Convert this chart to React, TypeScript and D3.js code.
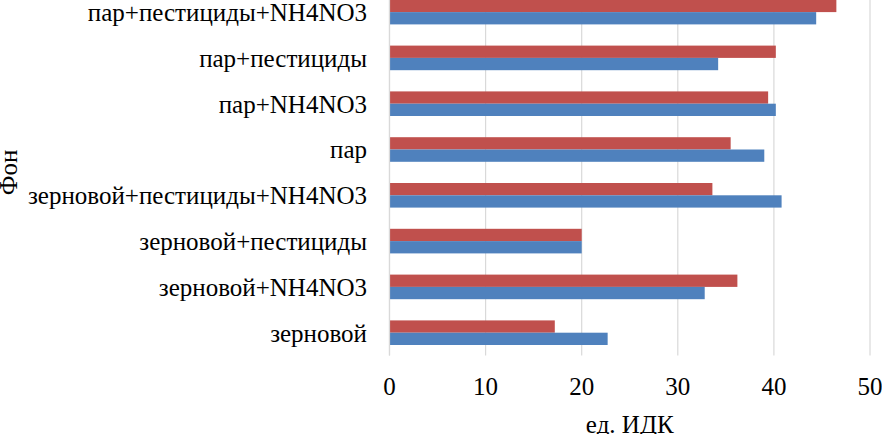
import React from "react";
import * as d3 from "d3";

const categories = [
  "зерновой",
  "зерновой+NH4NO3",
  "зерновой+пестициды",
  "зерновой+пестициды+NH4NO3",
  "пар",
  "пар+NH4NO3",
  "пар+пестициды",
  "пар+пестициды+NH4NO3",
];
// blue series (lower bar of each pair)
const series1 = [22.7, 32.8, 20.0, 40.8, 39.0, 40.2, 34.2, 44.4];
// red series (upper bar of each pair)
const series2 = [17.2, 36.2, 20.0, 33.6, 35.5, 39.4, 40.2, 46.5];
const xTicks = [0, 10, 20, 30, 40, 50];
const xTitle = "ед. ИДК";
const yTitle = "Фон";

const W = 882;
const H = 434;
const FONT = "Times New Roman";
const FS = 25;

export default function App() {
  const left = 389.5;
  const right = 870;
  const top = -10.8;
  const bottom = 355.6;

  const x = d3.scaleLinear().domain([0, 50]).range([left, right]);
  const y = d3
    .scaleBand<string>()
    .domain([...categories].reverse())
    .range([top, bottom])
    .paddingInner(0.463)
    .paddingOuter(0.2315);
  const sub = d3
    .scaleBand<string>()
    .domain(["s2", "s1"])
    .range([0, y.bandwidth()]);

  return (
    <svg
      width={W}
      height={H}
      style={{ position: "absolute", left: 0, top: 0, background: "#fff" }}
    >
      <rect x={0} y={0} width={W} height={H} fill="#fff" />
      {xTicks.map((t) => (
        <line
          key={"g" + t}
          x1={x(t)}
          x2={x(t)}
          y1={0}
          y2={bottom}
          stroke="#D9D9D9"
          strokeWidth={1.2}
        />
      ))}
      {categories.map((c, i) => (
        <rect
          key={"r" + c}
          x={x(0)}
          y={(y(c) as number) + (sub("s2") as number)}
          width={x(series2[i]) - x(0)}
          height={sub.bandwidth()}
          fill="#C0504D"
        />
      ))}
      {categories.map((c, i) => (
        <rect
          key={"b" + c}
          x={x(0)}
          y={(y(c) as number) + (sub("s1") as number)}
          width={x(series1[i]) - x(0)}
          height={sub.bandwidth()}
          fill="#4F81BD"
        />
      ))}
      {categories.map((c) => (
        <text
          key={"l" + c}
          x={367}
          y={(y(c) as number) + y.bandwidth() / 2 + 8.8}
          textAnchor="end"
          fontFamily={FONT}
          fontSize={FS}
        >
          {c}
        </text>
      ))}
      <line x1={x(0)} x2={x(0)} y1={0} y2={bottom} stroke="#D9D9D9" strokeWidth={1.2} />
      {xTicks.map((t) => (
        <text
          key={"t" + t}
          x={x(t)}
          y={395}
          textAnchor="middle"
          fontFamily={FONT}
          fontSize={FS}
        >
          {t}
        </text>
      ))}
      <text
        x={(left + right) / 2}
        y={433}
        textAnchor="middle"
        fontFamily={FONT}
        fontSize={FS}
      >
        {xTitle}
      </text>
      <text
        transform={`translate(17, ${(top + bottom) / 2}) rotate(-90)`}
        textAnchor="middle"
        fontFamily={FONT}
        fontSize={FS}
      >
        {yTitle}
      </text>
    </svg>
  );
}
